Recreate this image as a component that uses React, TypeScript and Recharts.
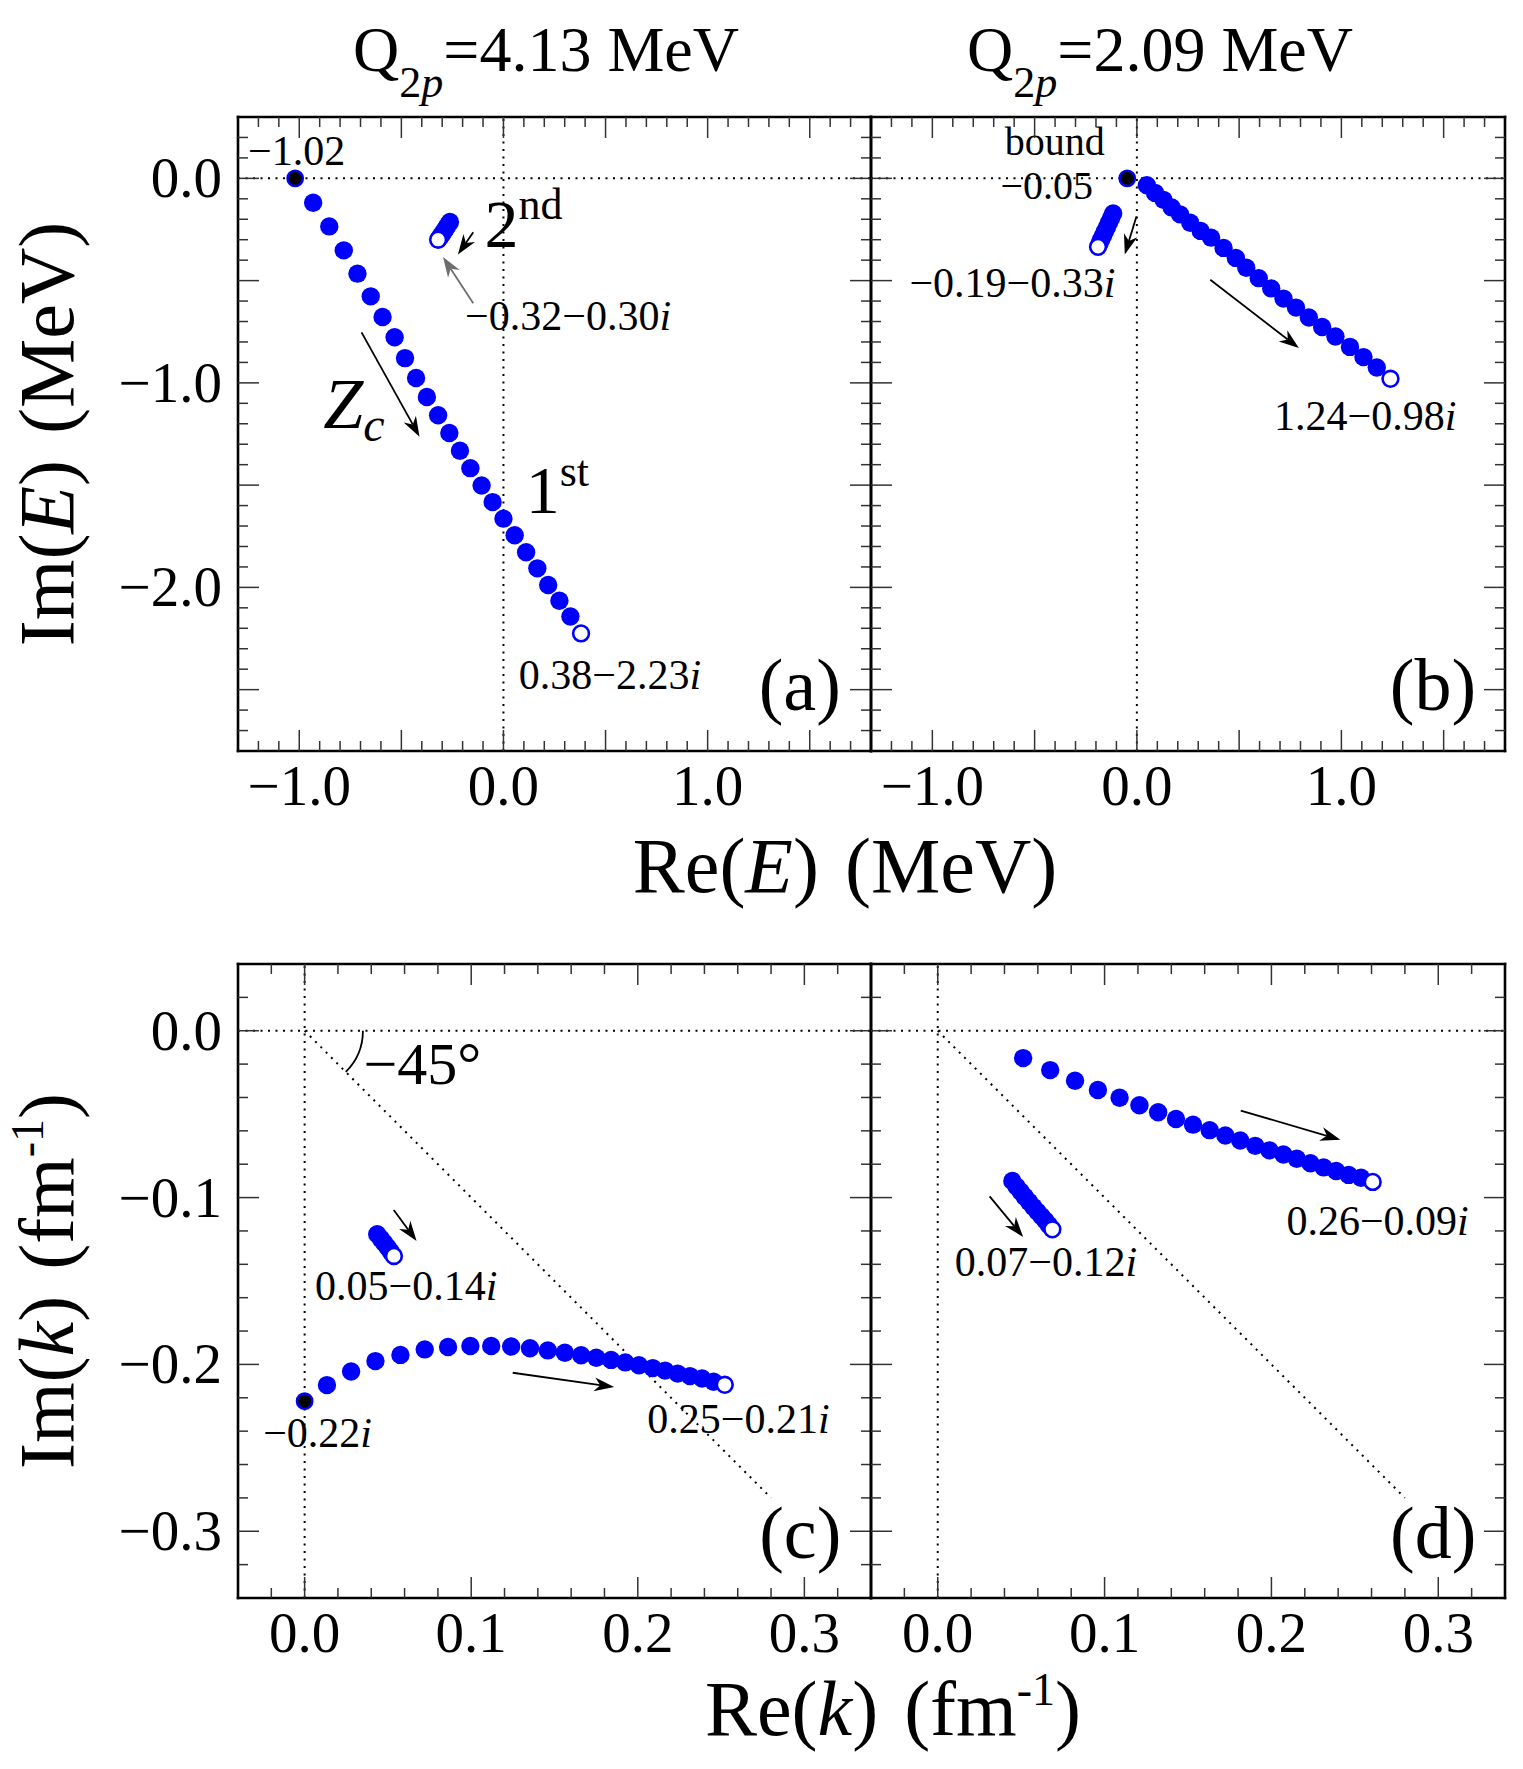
import React from "react";
import { ScatterChart, Scatter, XAxis, YAxis, ReferenceLine, ReferenceDot } from "recharts";

const FONT = "'Liberation Serif', 'Times New Roman', Times, serif";
const BLUE = "#0000ff";

// ---------- axis ticks ----------
const eTicksX = [-1.2, -1.1, -1.0, -0.9, -0.8, -0.7, -0.6, -0.5, -0.4, -0.3, -0.2, -0.1, 0, 0.1, 0.2, 0.3, 0.4, 0.5, 0.6, 0.7, 0.8, 0.9, 1.0, 1.1, 1.2, 1.3, 1.4, 1.5, 1.6, 1.7];
const eTicksY = [0.2, 0.1, 0, -0.1, -0.2, -0.3, -0.4, -0.5, -0.6, -0.7, -0.8, -0.9, -1.0, -1.1, -1.2, -1.3, -1.4, -1.5, -1.6, -1.7, -1.8, -1.9, -2.0, -2.1, -2.2, -2.3, -2.4, -2.5, -2.6, -2.7];
const eMajor = [-2.5, -2.0, -1.5, -1.0, -0.5, 0, 0.5, 1.0, 1.5];
const eLabelsX = [-1, 0, 1];
const eLabelsY = [0, -1, -2];
const kTicksX = [-0.02, 0, 0.02, 0.04, 0.06, 0.08, 0.1, 0.12, 0.14, 0.16, 0.18, 0.2, 0.22, 0.24, 0.26, 0.28, 0.3, 0.32];
const kTicksY = [0.02, 0, -0.02, -0.04, -0.06, -0.08, -0.1, -0.12, -0.14, -0.16, -0.18, -0.2, -0.22, -0.24, -0.26, -0.28, -0.3, -0.32];
const kMajor = [-0.3, -0.2, -0.1, 0, 0.1, 0.2, 0.3];
const kLabelsX = [0, 0.1, 0.2, 0.3];
const kLabelsY = [0, -0.1, -0.2, -0.3];

// ---------- (a) Q2p = 4.13 MeV, complex energy ----------
const aStart = [{ x: -1.02, y: 0 }];
const aFirst = [
  { x: -0.932, y: -0.119 }, { x: -0.853, y: -0.235 }, { x: -0.782, y: -0.352 }, { x: -0.715, y: -0.466 },
  { x: -0.65, y: -0.577 }, { x: -0.592, y: -0.678 }, { x: -0.533, y: -0.777 }, { x: -0.482, y: -0.879 },
  { x: -0.428, y: -0.976 }, { x: -0.375, y: -1.069 }, { x: -0.32, y: -1.158 }, { x: -0.265, y: -1.245 },
  { x: -0.213, y: -1.332 }, { x: -0.162, y: -1.417 }, { x: -0.107, y: -1.502 }, { x: -0.053, y: -1.583 },
  { x: 0.0, y: -1.664 }, { x: 0.055, y: -1.745 }, { x: 0.111, y: -1.828 }, { x: 0.166, y: -1.907 },
  { x: 0.219, y: -1.988 }, { x: 0.274, y: -2.065 }, { x: 0.328, y: -2.142 },
];
const aFirstEnd = [{ x: 0.38, y: -2.225 }];
const aSecond = [
  { x: -0.262, y: -0.213 }, { x: -0.271, y: -0.227 }, { x: -0.28, y: -0.241 }, { x: -0.289, y: -0.255 },
  { x: -0.298, y: -0.269 }, { x: -0.306, y: -0.281 }, { x: -0.313, y: -0.291 },
];
const aSecondEnd = [{ x: -0.32, y: -0.3 }];

// ---------- (b) Q2p = 2.09 MeV, complex energy ----------
const bBound = [{ x: -0.047, y: 0 }];
const bFirst = [
  { x: 0.049, y: -0.034 }, { x: 0.089, y: -0.071 }, { x: 0.13, y: -0.105 }, { x: 0.17, y: -0.142 },
  { x: 0.211, y: -0.176 }, { x: 0.261, y: -0.217 }, { x: 0.312, y: -0.257 }, { x: 0.363, y: -0.29 },
  { x: 0.424, y: -0.34 }, { x: 0.484, y: -0.389 }, { x: 0.535, y: -0.437 }, { x: 0.596, y: -0.488 },
  { x: 0.657, y: -0.538 }, { x: 0.717, y: -0.588 }, { x: 0.778, y: -0.632 }, { x: 0.841, y: -0.68 },
  { x: 0.906, y: -0.727 }, { x: 0.971, y: -0.773 }, { x: 1.042, y: -0.824 }, { x: 1.108, y: -0.874 },
  { x: 1.173, y: -0.925 },
];
const bFirstEnd = [{ x: 1.24, y: -0.98 }];
const bSecond = [
  { x: -0.116, y: -0.172 }, { x: -0.126, y: -0.194 }, { x: -0.136, y: -0.216 }, { x: -0.146, y: -0.238 },
  { x: -0.156, y: -0.259 }, { x: -0.165, y: -0.279 }, { x: -0.174, y: -0.298 }, { x: -0.182, y: -0.316 },
];
const bSecondEnd = [{ x: -0.19, y: -0.335 }];

// ---------- (c) Q2p = 4.13 MeV, complex momentum ----------
const cStart = [{ x: 0, y: -0.222 }];
const cFirst = [
  { x: 0.0134, y: -0.2124 }, { x: 0.0279, y: -0.2042 }, { x: 0.0425, y: -0.198 }, { x: 0.0575, y: -0.1943 },
  { x: 0.0721, y: -0.191 }, { x: 0.0861, y: -0.1896 }, { x: 0.0995, y: -0.189 }, { x: 0.112, y: -0.189 },
  { x: 0.124, y: -0.1893 }, { x: 0.1353, y: -0.1903 }, { x: 0.146, y: -0.1916 }, { x: 0.1562, y: -0.193 },
  { x: 0.166, y: -0.1945 }, { x: 0.1751, y: -0.196 }, { x: 0.184, y: -0.1973 }, { x: 0.1925, y: -0.1988 },
  { x: 0.2007, y: -0.2005 }, { x: 0.209, y: -0.2022 }, { x: 0.2164, y: -0.2037 }, { x: 0.2239, y: -0.2055 },
  { x: 0.2313, y: -0.207 }, { x: 0.2386, y: -0.2084 }, { x: 0.2455, y: -0.2104 },
];
const cFirstEnd = [{ x: 0.2522, y: -0.2122 }];
const cSecond = [
  { x: 0.0436, y: -0.122 }, { x: 0.0457, y: -0.1246 }, { x: 0.0478, y: -0.1272 }, { x: 0.0498, y: -0.1298 },
  { x: 0.0517, y: -0.1324 },
];
const cSecondEnd = [{ x: 0.0536, y: -0.135 }];

// ---------- (d) Q2p = 2.09 MeV, complex momentum ----------
const dFirst = [
  { x: 0.0512, y: -0.0164 }, { x: 0.0674, y: -0.0236 }, { x: 0.0823, y: -0.03 }, { x: 0.096, y: -0.0355 },
  { x: 0.109, y: -0.0402 }, { x: 0.1209, y: -0.0447 }, { x: 0.1321, y: -0.0489 }, { x: 0.1428, y: -0.0529 },
  { x: 0.153, y: -0.0563 }, { x: 0.163, y: -0.0596 }, { x: 0.1724, y: -0.0628 }, { x: 0.1813, y: -0.0658 },
  { x: 0.1903, y: -0.069 }, { x: 0.1988, y: -0.0717 }, { x: 0.2072, y: -0.0742 }, { x: 0.2152, y: -0.0767 },
  { x: 0.2234, y: -0.0794 }, { x: 0.2313, y: -0.0819 }, { x: 0.2388, y: -0.0841 }, { x: 0.2463, y: -0.0864 },
  { x: 0.2537, y: -0.0881 },
];
const dFirstEnd = [{ x: 0.2607, y: -0.0906 }];
const dSecond = [
  { x: 0.0447, y: -0.0901 }, { x: 0.0472, y: -0.0933 }, { x: 0.0497, y: -0.0964 }, { x: 0.0522, y: -0.0995 },
  { x: 0.0547, y: -0.1025 }, { x: 0.0572, y: -0.1055 }, { x: 0.0597, y: -0.1084 }, { x: 0.0622, y: -0.1112 },
  { x: 0.0645, y: -0.1138 }, { x: 0.0666, y: -0.1164 },
];
const dSecondEnd = [{ x: 0.0687, y: -0.119 }];

// ---------- helpers ----------
const near = (arr: number[], v: number) => arr.some((a) => Math.abs(a - v) < 1e-6);
const fmt = (v: number) => (v < -1e-9 ? "\u2212" : "") + Math.abs(v).toFixed(1);

type Side = "bottom" | "top" | "left" | "right";

function makeTick(side: Side, major: number[], labels: number[]) {
  return (props: any) => {
    const { x, y, payload } = props;
    const v = payload.value as number;
    const len = near(major, v) ? 21 : 10;
    let line: React.ReactNode = null;
    if (side === "bottom") line = <line x1={x} y1={y} x2={x} y2={y - len} />;
    if (side === "top") line = <line x1={x} y1={y} x2={x} y2={y + len} />;
    if (side === "left") line = <line x1={x} y1={y} x2={x + len} y2={y} />;
    if (side === "right") line = <line x1={x} y1={y} x2={x - len} y2={y} />;
    let label: React.ReactNode = null;
    if (near(labels, v)) {
      if (side === "bottom")
        label = (
          <text x={x} y={y + 54} textAnchor="middle" fontSize={57} fontFamily={FONT} fill="#000">
            {fmt(v)}
          </text>
        );
      if (side === "left")
        label = (
          <text x={x - 16} y={y + 19} textAnchor="end" fontSize={57} fontFamily={FONT} fill="#000">
            {fmt(v)}
          </text>
        );
    }
    return (
      <g>
        <g stroke="#333" strokeWidth={1.5}>{line}</g>
        {label}
      </g>
    );
  };
}

const dot = (p: any) => <circle cx={p.cx} cy={p.cy} r={9.2} fill={BLUE} />;
const openDot = (p: any) => <circle cx={p.cx} cy={p.cy} r={7.9} fill="#fff" stroke={BLUE} strokeWidth={2.6} />;
const blackDot = (p: any) => <circle cx={p.cx} cy={p.cy} r={7.7} fill="#000" stroke={BLUE} strokeWidth={2.4} />;

function arrowShape(color: string) {
  return (p: any) => {
    const { x1, y1, x2, y2 } = p;
    const dx = x2 - x1;
    const dy = y2 - y1;
    const len = Math.hypot(dx, dy) || 1;
    const ux = dx / len;
    const uy = dy / len;
    const nx = -uy;
    const ny = ux;
    const L = 20;
    const W = 14;
    const bx = x2 - ux * L;
    const by = y2 - uy * L;
    const mx = x2 - ux * L * 0.7;
    const my = y2 - uy * L * 0.7;
    const pts = `${x2},${y2} ${bx + (nx * W) / 2},${by + (ny * W) / 2} ${mx},${my} ${bx - (nx * W) / 2},${by - (ny * W) / 2}`;
    return (
      <g>
        <line x1={x1} y1={y1} x2={mx} y2={my} stroke={color} strokeWidth={1.8} />
        <polygon points={pts} fill={color} />
      </g>
    );
  };
}

const arcShape = (p: any) => {
  const { x1, y1, x2, y2 } = p;
  const r = Math.hypot(x2 - x1, y2 - y1) / (2 * Math.sin(Math.PI / 8));
  return <path d={`M${x1},${y1} A${r},${r} 0 0 1 ${x2},${y2}`} fill="none" stroke="#000" strokeWidth={1.8} />;
};

function textShape(content: React.ReactNode, size: number) {
  return (p: any) => (
    <text x={p.cx} y={p.cy} fontSize={size} fontFamily={FONT} fill="#000">
      {content}
    </text>
  );
}

const I = () => <tspan fontStyle="italic">i</tspan>;
const dotted = { stroke: "#000", strokeWidth: 2, strokeDasharray: "2 5.5" };
const frame = { stroke: "#000", strokeWidth: 2.6, strokeLinecap: "square" as const };

interface Arrow { from: [number, number]; to: [number, number]; color?: string }
interface Note { at: [number, number]; size: number; content: React.ReactNode }

const aArrows: Arrow[] = [
  { from: [-0.148, -0.263], to: [-0.223, -0.372] },
  { from: [-0.148, -0.611], to: [-0.296, -0.385], color: "#6e6e6e" },
  { from: [-0.695, -0.753], to: [-0.411, -1.263] },
];
const aNotes: Note[] = [
  { at: [-1.251, 0.067], size: 42, content: "\u22121.02" },
  { at: [-0.093, -0.338], size: 68, content: <>2<tspan fontSize={44} dy={-28}>nd</tspan></> },
  { at: [-0.188, -0.743], size: 42, content: <>{"\u22120.32\u22120.30"}<I /></> },
  { at: [-0.883, -1.219], size: 72, content: <><tspan fontStyle="italic">Z</tspan><tspan fontStyle="italic" fontSize={48} dy={13}>c</tspan></> },
  { at: [0.109, -1.634], size: 68, content: <>1<tspan fontSize={44} dy={-27}>st</tspan></> },
  { at: [0.075, -2.498], size: 42, content: <>{"0.38\u22122.23"}<I /></> },
  { at: [1.25, -2.599], size: 74, content: "(a)" },
];

const bArrows: Arrow[] = [
  { from: [-0.002, -0.186], to: [-0.059, -0.372] },
  { from: [0.359, -0.496], to: [0.792, -0.83] },
];
const bNotes: Note[] = [
  { at: [-0.646, 0.115], size: 40, content: "bound" },
  { at: [-0.667, -0.103], size: 40, content: "\u22120.05" },
  { at: [-1.112, -0.581], size: 42, content: <>{"\u22120.19\u22120.33"}<I /></> },
  { at: [0.671, -1.229], size: 42, content: <>{"1.24\u22120.98"}<I /></> },
  { at: [1.237, -2.599], size: 74, content: "(b)" },
];

const cArrows: Arrow[] = [
  { from: [0.0535, -0.1074], to: [0.0672, -0.126] },
  { from: [0.1249, -0.205], to: [0.1858, -0.2136] },
];
const cNotes: Note[] = [
  { at: [0.0353, -0.0318], size: 60, content: "\u221245\u00b0" },
  { at: [0.0062, -0.1613], size: 42, content: <>{"0.05\u22120.14"}<I /></> },
  { at: [-0.0249, -0.2496], size: 42, content: <>{"\u22120.22"}<I /></> },
  { at: [0.2057, -0.2414], size: 42, content: <>{"0.25\u22120.21"}<I /></> },
  { at: [0.2729, -0.3159], size: 74, content: "(c)" },
];

const dArrows: Arrow[] = [
  { from: [0.1816, -0.0479], to: [0.2413, -0.0653] },
  { from: [0.0311, -0.0993], to: [0.0512, -0.1236] },
];
const dNotes: Note[] = [
  { at: [0.209, -0.1223], size: 42, content: <>{"0.26\u22120.09"}<I /></> },
  { at: [0.0102, -0.1471], size: 42, content: <>{"0.07\u22120.12"}<I /></> },
  { at: [0.2711, -0.3159], size: 74, content: "(d)" },
];

const renderArrows = (list: Arrow[], id: string) =>
  list.map((a, i) => (
    <ReferenceLine
      key={`${id}-arr-${i}`}
      segment={[{ x: a.from[0], y: a.from[1] }, { x: a.to[0], y: a.to[1] }]}
      ifOverflow="visible"
      shape={arrowShape(a.color || "#000")}
    />
  ));

const renderNotes = (list: Note[], id: string) =>
  list.map((n, i) => (
    <ReferenceDot key={`${id}-note-${i}`} x={n.at[0]} y={n.at[1]} ifOverflow="visible" shape={textShape(n.content, n.size)} />
  ));

interface PanelProps {
  left: number;
  top: number;
  width: number;
  height: number;
  // plot-area edges inside the chart box
  plot: { top: number; right: number; bottom: number; left: number };
  xDomain: [number, number];
  yDomain: [number, number];
  xTicks: number[];
  yTicks: number[];
  major: number[];
  xLabels: number[];
  yLabels: number[];
  children: React.ReactNode;
}

function Panel(p: PanelProps) {
  const common = { type: "number" as const, interval: 0 as const, allowDataOverflow: true, tickSize: 0, tickMargin: 0, tickLine: false, axisLine: frame };
  // each axis takes 1px, so the margins are pulled in by one
  const margin = { top: p.plot.top - 1, right: p.plot.right - 1, bottom: p.plot.bottom - 1, left: p.plot.left - 1 };
  return (
    <div style={{ position: "absolute", left: p.left, top: p.top }}>
      <ScatterChart width={p.width} height={p.height} margin={margin}>
        <XAxis {...common} dataKey="x" domain={p.xDomain} ticks={p.xTicks} height={1} tick={makeTick("bottom", p.major, p.xLabels)} />
        <XAxis {...common} xAxisId="top" orientation="top" dataKey="x" domain={p.xDomain} ticks={p.xTicks} height={1} tick={makeTick("top", p.major, [])} />
        <YAxis {...common} dataKey="y" domain={p.yDomain} ticks={p.yTicks} width={1} tick={makeTick("left", p.major, p.yLabels)} />
        <YAxis {...common} yAxisId="right" orientation="right" dataKey="y" domain={p.yDomain} ticks={p.yTicks} width={1} tick={makeTick("right", p.major, [])} />
        {p.children}
      </ScatterChart>
    </div>
  );
}

const E_X: [number, number] = [-1.3, 1.8];
const E_Y: [number, number] = [-2.8, 0.3];
const K_X: [number, number] = [-0.04, 0.34];
const K_Y: [number, number] = [-0.34, 0.04];

export default function App() {
  return (
    <div style={{ position: "absolute", left: 0, top: 0, width: 1523, height: 1769, background: "#fff" }}>
      <svg width={1523} height={1769} style={{ position: "absolute", left: 0, top: 0 }} fontFamily={FONT}>
        <text x={546} y={71} fontSize={64} textAnchor="middle">
          Q<tspan fontSize={44} dy={26}>2</tspan><tspan fontSize={44} fontStyle="italic">p</tspan><tspan dy={-26}>=4.13 MeV</tspan>
        </text>
        <text x={1160} y={71} fontSize={64} textAnchor="middle">
          Q<tspan fontSize={44} dy={26}>2</tspan><tspan fontSize={44} fontStyle="italic">p</tspan><tspan dy={-26}>=2.09 MeV</tspan>
        </text>
        <text x={845} y={892} fontSize={78} textAnchor="middle">
          Re(<tspan fontStyle="italic">E</tspan>)<tspan dx={26}>(MeV)</tspan>
        </text>
        <text transform="translate(73,434) rotate(-90)" fontSize={78} textAnchor="middle">
          Im(<tspan fontStyle="italic">E</tspan>)<tspan dx={26}>(MeV)</tspan>
        </text>
        <text x={893} y={1735} fontSize={78} textAnchor="middle">
          Re(<tspan fontStyle="italic">k</tspan>)<tspan dx={26}>(fm</tspan><tspan fontSize={46} dy={-30}>-1</tspan><tspan dy={30}>)</tspan>
        </text>
        <text transform="translate(73,1281) rotate(-90)" fontSize={78} textAnchor="middle">
          Im(<tspan fontStyle="italic">k</tspan>)<tspan dx={26}>(fm</tspan><tspan fontSize={46} dy={-30}>-1</tspan><tspan dy={30}>)</tspan>
        </text>
      </svg>

      {/* (a) */}
      <Panel left={0} top={0} width={900} height={830} plot={{ top: 117, right: 29, bottom: 79, left: 238 }}
        xDomain={E_X} yDomain={E_Y} xTicks={eTicksX} yTicks={eTicksY} major={eMajor} xLabels={eLabelsX} yLabels={eLabelsY}>
        <Scatter data={aFirst} shape={dot} isAnimationActive={false} />
        <Scatter data={aFirstEnd} shape={openDot} isAnimationActive={false} />
        <Scatter data={aStart} shape={blackDot} isAnimationActive={false} />
        <Scatter data={aSecond} shape={dot} isAnimationActive={false} />
        <Scatter data={aSecondEnd} shape={openDot} isAnimationActive={false} />
        <ReferenceLine x={0} {...dotted} />
        <ReferenceLine y={0} {...dotted} />
        {renderArrows(aArrows, "a")}
        {renderNotes(aNotes, "a")}
      </Panel>

      {/* (b) */}
      <Panel left={800} top={0} width={723} height={830} plot={{ top: 117, right: 18, bottom: 79, left: 71 }}
        xDomain={E_X} yDomain={E_Y} xTicks={eTicksX} yTicks={eTicksY} major={eMajor} xLabels={eLabelsX} yLabels={[]}>
        <Scatter data={bFirst} shape={dot} isAnimationActive={false} />
        <Scatter data={bFirstEnd} shape={openDot} isAnimationActive={false} />
        <Scatter data={bSecond} shape={dot} isAnimationActive={false} />
        <Scatter data={bSecondEnd} shape={openDot} isAnimationActive={false} />
        <Scatter data={bBound} shape={blackDot} isAnimationActive={false} />
        <ReferenceLine x={0} {...dotted} />
        <ReferenceLine y={0} {...dotted} />
        {renderArrows(bArrows, "b")}
        {renderNotes(bNotes, "b")}
      </Panel>

      {/* (c) */}
      <Panel left={0} top={850} width={900} height={919} plot={{ top: 114, right: 29, bottom: 171, left: 238 }}
        xDomain={K_X} yDomain={K_Y} xTicks={kTicksX} yTicks={kTicksY} major={kMajor} xLabels={kLabelsX} yLabels={kLabelsY}>
        <Scatter data={cFirst} shape={dot} isAnimationActive={false} />
        <Scatter data={cFirstEnd} shape={openDot} isAnimationActive={false} />
        <Scatter data={cStart} shape={blackDot} isAnimationActive={false} />
        <Scatter data={cSecond} shape={dot} isAnimationActive={false} />
        <Scatter data={cSecondEnd} shape={openDot} isAnimationActive={false} />
        <ReferenceLine x={0} {...dotted} />
        <ReferenceLine y={0} {...dotted} />
        <ReferenceLine segment={[{ x: 0, y: 0 }, { x: 0.28, y: -0.28 }]} ifOverflow="visible" {...dotted} />
        <ReferenceLine segment={[{ x: 0.035, y: 0 }, { x: 0.0247, y: -0.0247 }]} ifOverflow="visible" shape={arcShape} />
        {renderArrows(cArrows, "c")}
        {renderNotes(cNotes, "c")}
      </Panel>

      {/* (d) */}
      <Panel left={800} top={850} width={723} height={919} plot={{ top: 114, right: 18, bottom: 171, left: 71 }}
        xDomain={K_X} yDomain={K_Y} xTicks={kTicksX} yTicks={kTicksY} major={kMajor} xLabels={kLabelsX} yLabels={[]}>
        <Scatter data={dFirst} shape={dot} isAnimationActive={false} />
        <Scatter data={dFirstEnd} shape={openDot} isAnimationActive={false} />
        <Scatter data={dSecond} shape={dot} isAnimationActive={false} />
        <Scatter data={dSecondEnd} shape={openDot} isAnimationActive={false} />
        <ReferenceLine x={0} {...dotted} />
        <ReferenceLine y={0} {...dotted} />
        <ReferenceLine segment={[{ x: 0, y: 0 }, { x: 0.28, y: -0.28 }]} ifOverflow="visible" {...dotted} />
        {renderArrows(dArrows, "d")}
        {renderNotes(dNotes, "d")}
      </Panel>
    </div>
  );
}
